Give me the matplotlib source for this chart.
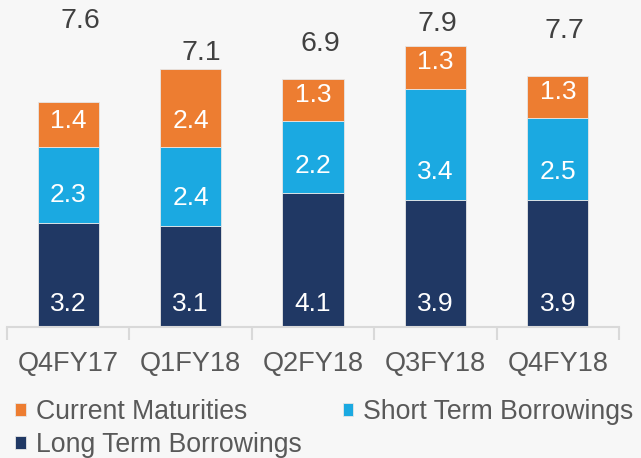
import matplotlib
matplotlib.use("Agg")
import matplotlib.pyplot as plt
import numpy as np

categories = ["Q4FY17", "Q1FY18", "Q2FY18", "Q3FY18", "Q4FY18"]
long_term = [3.2, 3.1, 4.1, 3.9, 3.9]
short_term = [2.3, 2.4, 2.2, 3.4, 2.5]
current_mat = [1.4, 2.4, 1.3, 1.3, 1.3]
totals = [7.6, 7.1, 6.9, 7.9, 7.7]

# layout: where the total labels sit (data units) and small x nudges
total_label_y = [9.37, 8.39, 8.66, 9.28, 9.06]
total_label_dx = [0.10, 0.09, 0.06, 0.02, 0.05]

plt.rcParams['font.family'] = ['Liberation Sans', 'DejaVu Sans']
bg = '#f7f7f7'
c_long, c_short, c_cur = '#203864', '#1ba9e1', '#ed7d31'

fig = plt.figure(figsize=(6.41, 4.58), dpi=100, facecolor=bg)
ax = fig.add_axes([7/641, 0.286, 612/641, 0.713], facecolor=bg)

x = np.arange(len(categories))
w = 0.5
b1 = ax.bar(x, long_term, w, color=c_long, edgecolor='#e6e6e6', linewidth=0.6, label='Long Term Borrowings')
bottom2 = np.array(long_term)
b2 = ax.bar(x, short_term, w, bottom=bottom2, color=c_short, edgecolor='#e6e6e6', linewidth=0.6, label='Short Term Borrowings')
bottom3 = bottom2 + np.array(short_term)
b3 = ax.bar(x, current_mat, w, bottom=bottom3, color=c_cur, edgecolor='#e6e6e6', linewidth=0.6, label='Current Maturities')

for i in range(len(x)):
    ax.text(x[i], 0.71, f"{long_term[i]:.1f}", ha='center', va='center', color='white', fontsize=19)
    ax.text(x[i], bottom2[i] + 0.84, f"{short_term[i]:.1f}", ha='center', va='center', color='white', fontsize=19)
    ax.text(x[i], bottom3[i] + 0.81, f"{current_mat[i]:.1f}", ha='center', va='center', color='white', fontsize=19)
    ax.text(x[i] + total_label_dx[i], total_label_y[i], f"{totals[i]:.1f}", ha='center', va='center', color='#404040', fontsize=20.5)

ax.set_xlim(-0.5, len(categories) - 0.5)
ax.set_ylim(0, 10)
for s in ['top', 'right', 'left']:
    ax.spines[s].set_visible(False)
ax.spines['bottom'].set_color('#d9d9d9')
ax.spines['bottom'].set_linewidth(1.5)
ax.set_yticks([])
ax.set_xticks(x)
ax.set_xticklabels(categories, fontsize=19.5, color='#595959')
ax.tick_params(axis='x', which='major', length=0, pad=17)
ax.set_xticks(np.arange(-0.5, len(categories), 1.0), minor=True)
ax.tick_params(axis='x', which='minor', length=9, width=1.5, color='#d9d9d9', direction='out')

# column-major fill: col1 = Current, Long; col2 = Short
handles = [b3, b1, b2]
labels = ['Current Maturities', 'Long Term Borrowings', 'Short Term Borrowings']
leg = fig.legend(handles, labels, ncol=2, loc='upper left', bbox_to_anchor=(0.024, 0.129),
                 frameon=False, fontsize=19.2, handlelength=0.38, handleheight=0.38,
                 handletextpad=0.38, columnspacing=1.55, labelspacing=0.27, borderaxespad=0,
                 borderpad=0)
for t in leg.get_texts():
    t.set_color('#595959')

fig.savefig('out.png', dpi=100, facecolor=bg)
